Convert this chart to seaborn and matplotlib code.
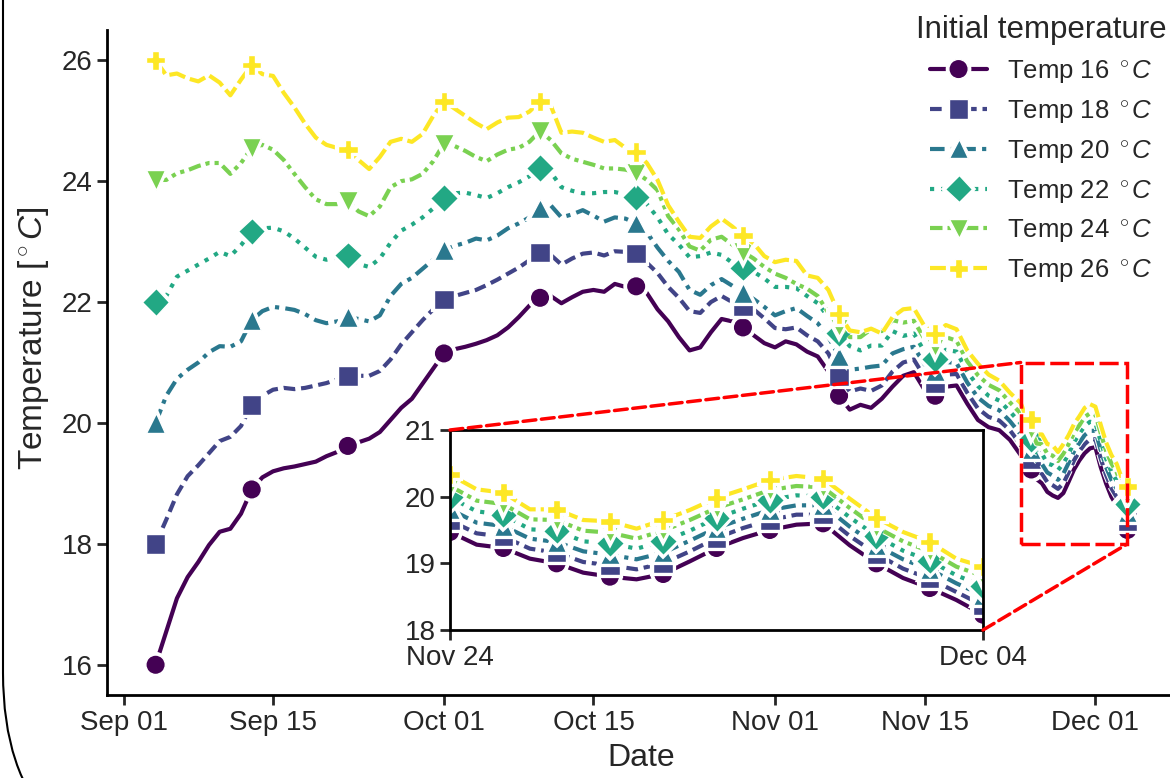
import numpy as np
import pandas as pd
import seaborn as sns
import matplotlib.pyplot as plt
import matplotlib.dates as mdates
import matplotlib.patheffects as pe
from matplotlib.patches import Rectangle, FancyBboxPatch, ConnectionPatch

# Daily readings Sep 04 - Nov 23
temp16 = [16.0, 16.55, 17.1, 17.45, 17.7, 17.98, 18.2, 18.25, 18.5, 18.9,
          19.1, 19.2, 19.25, 19.28, 19.32, 19.36, 19.45, 19.52, 19.62, 19.68,
          19.74, 19.85, 20.05, 20.25, 20.4, 20.65, 20.9, 21.15, 21.22, 21.26,
          21.31, 21.37, 21.45, 21.58, 21.75, 21.94, 22.07, 22.1, 21.98, 22.08,
          22.17, 22.2, 22.17, 22.3, 22.25, 22.26, 22.15, 21.88, 21.68, 21.42,
          21.2, 21.25, 21.5, 21.72, 21.68, 21.58, 21.45, 21.32, 21.25, 21.35,
          21.3, 21.18, 21.1, 20.85, 20.45, 20.22, 20.3, 20.25, 20.4, 20.6,
          20.78, 20.84, 20.55, 20.45, 20.6, 20.62, 20.32, 20.05, 19.93, 19.88, 19.72]
temp18 = [18.0, 18.4, 18.82, 19.12, 19.3, 19.5, 19.7, 19.77, 19.95, 20.3,
          20.45, 20.55, 20.58, 20.56, 20.58, 20.62, 20.66, 20.72, 20.78, 20.78,
          20.78, 20.86, 21.05, 21.3, 21.5, 21.7, 21.88, 22.04, 22.1, 22.15,
          22.2, 22.28, 22.37, 22.47, 22.57, 22.69, 22.82, 22.78, 22.62, 22.72,
          22.8, 22.82, 22.77, 22.84, 22.83, 22.8, 22.65, 22.48, 22.25, 22.07,
          21.85, 21.82, 22.0, 22.1, 22.0, 21.93, 21.88, 21.73, 21.57, 21.55,
          21.58, 21.45, 21.35, 21.15, 20.78, 20.52, 20.57, 20.53, 20.62, 20.85,
          21.0, 21.05, 20.76, 20.65, 20.8, 20.81, 20.5, 20.24, 20.1, 20.04, 19.88]
temp20 = [20.0, 20.45, 20.73, 20.88, 21.0, 21.17, 21.27, 21.26, 21.35, 21.7,
          21.85, 21.92, 21.9, 21.87, 21.8, 21.7, 21.65, 21.68, 21.75, 21.72,
          21.68, 21.78, 22.1, 22.3, 22.4, 22.55, 22.7, 22.86, 22.93, 22.98,
          23.05, 23.02, 23.1, 23.22, 23.3, 23.4, 23.55, 23.6, 23.4, 23.45,
          23.52, 23.43, 23.33, 23.4, 23.38, 23.3, 23.15, 22.9, 22.68, 22.5,
          22.2, 22.12, 22.28, 22.38, 22.27, 22.15, 22.05, 21.92, 21.78, 21.85,
          21.9, 21.77, 21.65, 21.42, 21.1, 20.88, 20.9, 20.93, 20.95, 21.15,
          21.22, 21.26, 20.97, 20.86, 21.01, 20.99, 20.67, 20.42, 20.28, 20.21, 20.03]
temp22 = [22.0, 22.1, 22.42, 22.52, 22.62, 22.72, 22.83, 22.76, 22.94, 23.17,
          23.22, 23.23, 23.17, 23.05, 22.9, 22.75, 22.7, 22.74, 22.77, 22.63,
          22.58, 22.72, 22.98, 23.18, 23.28, 23.4, 23.55, 23.72, 23.8, 23.81,
          23.77, 23.72, 23.8, 23.9, 23.98, 24.08, 24.22, 24.15, 23.9, 23.84,
          23.8, 23.8, 23.82, 23.82, 23.78, 23.74, 23.62, 23.4, 23.12, 22.95,
          22.74, 22.76, 22.82, 22.78, 22.65, 22.57, 22.5, 22.39, 22.25, 22.25,
          22.23, 22.1, 21.98, 21.75, 21.48, 21.27, 21.2, 21.28, 21.28, 21.52,
          21.44, 21.48, 21.18, 21.06, 21.21, 21.18, 20.85, 20.61, 20.45, 20.37, 20.19]
temp24 = [24.02, 24.02, 24.13, 24.18, 24.25, 24.3, 24.3, 24.12, 24.3, 24.55,
          24.6, 24.52, 24.35, 24.12, 23.9, 23.7, 23.62, 23.62, 23.67, 23.5,
          23.42, 23.58, 23.9, 24.0, 24.03, 24.12, 24.33, 24.62, 24.58, 24.5,
          24.4, 24.33, 24.44, 24.52, 24.55, 24.65, 24.83, 24.68, 24.46, 24.37,
          24.32, 24.27, 24.21, 24.21, 24.19, 24.14, 24.02, 23.85, 23.42, 23.2,
          22.92, 22.85, 23.03, 23.08, 22.95, 22.83, 22.72, 22.58, 22.47, 22.4,
          22.3, 22.22, 22.1, 21.82, 21.6, 21.42, 21.42, 21.55, 21.52, 21.7,
          21.66, 21.69, 21.39, 21.27, 21.42, 21.36, 21.02, 20.79, 20.63, 20.54, 20.34]
temp26 = [26.0, 25.75, 25.78, 25.7, 25.65, 25.75, 25.63, 25.42, 25.68, 25.92,
          25.77, 25.74, 25.46, 25.22, 24.95, 24.72, 24.6, 24.55, 24.52, 24.35,
          24.2, 24.4, 24.65, 24.7, 24.65, 24.78, 25.08, 25.32, 25.2, 25.08,
          24.96, 24.86, 24.97, 25.05, 25.06, 25.15, 25.32, 25.25, 24.8, 24.82,
          24.8, 24.72, 24.65, 24.68, 24.55, 24.48, 24.3, 24.02, 23.6, 23.33,
          23.08, 23.06, 23.25, 23.38, 23.25, 23.1, 22.97, 22.76, 22.66, 22.7,
          22.68, 22.44, 22.4, 22.2, 21.8, 21.53, 21.5, 21.56, 21.48, 21.75,
          21.88, 21.9, 21.6, 21.47, 21.62, 21.55, 21.2, 20.98, 20.8, 20.7, 20.5]

# Half-daily readings Nov 24 - Dec 04 (zoomed part)
temp16_end = [19.47, 19.28, 19.23, 19.07, 19.00, 18.86, 18.80, 18.76, 18.84, 19.03, 19.23,
              19.38, 19.50, 19.58, 19.60, 19.27, 19.00, 18.78, 18.63, 18.45, 18.23]
temp18_end = [19.64, 19.45, 19.40, 19.22, 19.16, 19.02, 18.97, 18.91, 19.00, 19.18, 19.38,
              19.53, 19.65, 19.73, 19.73, 19.41, 19.14, 18.92, 18.77, 18.57, 18.37]
temp20_end = [19.81, 19.61, 19.56, 19.37, 19.32, 19.18, 19.13, 19.06, 19.16, 19.34, 19.53,
              19.67, 19.80, 19.87, 19.87, 19.55, 19.27, 19.06, 18.91, 18.70, 18.52]
temp22_end = [19.99, 19.78, 19.73, 19.51, 19.49, 19.33, 19.30, 19.22, 19.33, 19.49, 19.68,
              19.82, 19.95, 20.02, 20.00, 19.69, 19.41, 19.19, 19.04, 18.82, 18.66]
temp24_end = [20.16, 19.94, 19.89, 19.66, 19.65, 19.49, 19.46, 19.37, 19.49, 19.65, 19.83,
              19.96, 20.10, 20.16, 20.14, 19.83, 19.54, 19.33, 19.18, 18.95, 18.81]
temp26_end = [20.33, 20.11, 20.06, 19.81, 19.81, 19.65, 19.63, 19.52, 19.65, 19.80, 19.98,
              20.11, 20.25, 20.31, 20.27, 19.97, 19.68, 19.47, 19.32, 19.07, 18.95]

labels = ["Temp 16 $^\\circ C$", "Temp 18 $^\\circ C$", "Temp 20 $^\\circ C$",
          "Temp 22 $^\\circ C$", "Temp 24 $^\\circ C$", "Temp 26 $^\\circ C$"]

dates = pd.date_range("2023-09-04", "2023-11-23", freq="D").append(
    pd.date_range("2023-11-24", "2023-12-04", freq="12h"))

all_series = [temp16 + temp16_end, temp18 + temp18_end, temp20 + temp20_end,
              temp22 + temp22_end, temp24 + temp24_end, temp26 + temp26_end]

sns.set_theme(style="ticks")
plt.rcParams["font.family"] = ["Liberation Sans", "DejaVu Sans"]
plt.rcParams["mathtext.fontset"] = "custom"
plt.rcParams["mathtext.rm"] = "Liberation Sans"
plt.rcParams["mathtext.it"] = "Liberation Sans:italic"
plt.rcParams["axes.edgecolor"] = "black"

colors = plt.cm.viridis(np.linspace(0, 1, 6))
markers = ["o", "s", "^", "D", "v", "P"]
line_styles = ["-", (0, (2.8, 1.4)), (0, (3.5, 1.5, 1, 1.5)), (0, (1, 1.65)),
               (0, (3, 1.2, 1, 1.2, 1, 1.2)), (0, (4, 1.2))]

# marker positions: 11 evenly spaced in the main view, daily in the zoom
mark_times = pd.date_range(dates[0], dates[-1], periods=11)
main_marks = [int(np.argmin(np.abs(dates - t))) for t in mark_times]
zoom_start = pd.Timestamp("2023-11-24")
zoom_end = pd.Timestamp("2023-12-04")
zoom_marks = [i for i, t in enumerate(dates) if t >= zoom_start and t.hour == 0]

fig = plt.figure(figsize=(11.7, 7.78), dpi=100)
ax = fig.add_axes([107 / 1170, 83 / 778, 1069 / 1170, 665 / 778])
axins = fig.add_axes([450 / 1170, 148 / 778, 533 / 1170, 200 / 778])

for i, vals in enumerate(all_series):
    kw = dict(color=colors[i], linestyle=line_styles[i], linewidth=3,
              marker=markers[i], markersize=14, markeredgecolor="white",
              markeredgewidth=1,
              path_effects=[pe.Stroke(linewidth=4.5, foreground="white"), pe.Normal()])
    sns.lineplot(x=dates, y=vals, ax=ax, markevery=main_marks, label=labels[i], **kw)
    sns.lineplot(x=dates, y=vals, ax=axins, markevery=zoom_marks, legend=False, **kw)

pad = pd.Timedelta(days=4.55)
ax.set_xlim(dates[0] - pad, dates[-1] + pad)
ax.set_ylim(15.5, 26.5)
ax.set_yticks([16, 18, 20, 22, 24, 26])
ax.xaxis.set_major_locator(mdates.DayLocator(bymonthday=[1, 15]))
ax.xaxis.set_major_formatter(mdates.DateFormatter("%b %d"))
ax.set_xlabel("Date", fontsize=23, labelpad=5)
ax.set_ylabel("Temperature [$^\\circ C$]", fontsize=24)
ax.yaxis.set_label_coords(-0.052, 0.537)
ax.tick_params(labelsize=20, width=2, length=7)
sns.despine(ax=ax)
for s in ["left", "bottom"]:
    ax.spines[s].set_linewidth(2)

axins.set_xlim(zoom_start, zoom_end)
axins.set_ylim(18, 21)
axins.set_xticks([zoom_start, zoom_end])
axins.xaxis.set_major_formatter(mdates.DateFormatter("%b %d"))
axins.set_yticks([18, 19, 20, 21])
axins.set_xlabel("")
axins.set_ylabel("")
axins.tick_params(labelsize=20, width=2, length=7)
for s in axins.spines.values():
    s.set_linewidth(2)
    s.set_visible(True)

# zoom indicator
x0 = mdates.date2num(zoom_start)
x1 = mdates.date2num(zoom_end)
ax.add_patch(Rectangle((x0, 18), x1 - x0, 3, fill=False, edgecolor="red",
                       linestyle=(0, (5.5, 1.6)), linewidth=2.5, zorder=10))
for xa, xb in [((0, 1), (x0, 21)), ((1, 0), (x1, 18))]:
    con = ConnectionPatch(xyA=xa, coordsA=axins.transAxes, xyB=xb, coordsB=ax.transData,
                          color="red", linestyle="--", linewidth=2.5, zorder=10)
    fig.add_artist(con)

handles, labs = ax.get_legend_handles_labels()
ax.legend(handles, labs, title="Initial temperature", loc="upper right",
          bbox_to_anchor=(1.005, 0.992), bbox_transform=fig.transFigure,
          frameon=False, fontsize=18.5, title_fontsize=22.5, handlelength=2.2,
          labelspacing=0.5, borderaxespad=0.1, borderpad=0.25, handletextpad=0.8)

frame = FancyBboxPatch((0.03, -0.95), 13.0, 13.0,
                       boxstyle="round,pad=0,rounding_size=2.0",
                       transform=fig.dpi_scale_trans, fill=False,
                       edgecolor="black", linewidth=1.5, clip_on=False)
fig.add_artist(frame)

fig.savefig("out.png", dpi=100)
